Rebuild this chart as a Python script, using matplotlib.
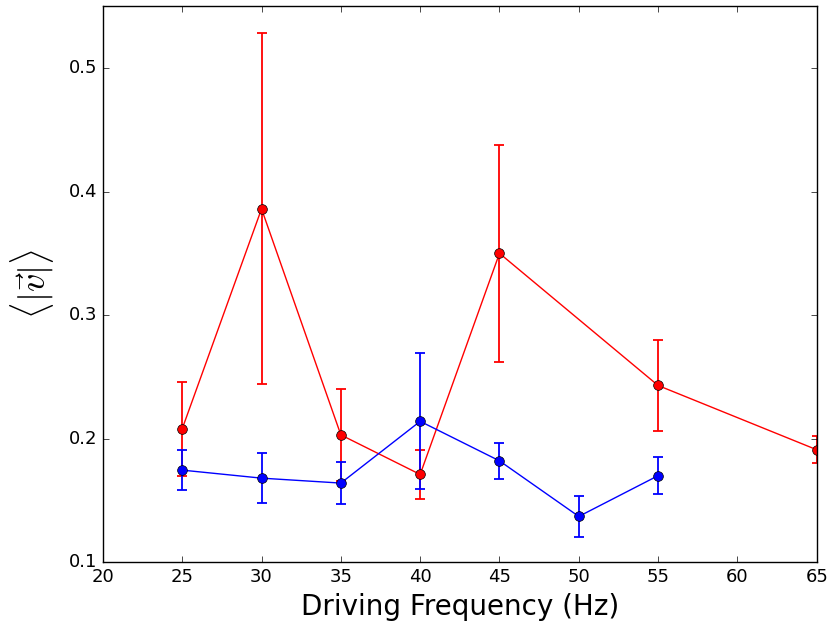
import matplotlib
matplotlib.use('Agg')
import matplotlib.pyplot as plt

plt.style.use('classic')

# red series
freq_r = [25, 30, 35, 40, 45, 55, 65]
v_r = [0.208, 0.386, 0.203, 0.171, 0.350, 0.243, 0.191]
err_r = [0.038, 0.142, 0.037, 0.020, 0.088, 0.037, 0.011]

# blue series
freq_b = [25, 30, 35, 40, 45, 50, 55]
v_b = [0.1745, 0.168, 0.164, 0.214, 0.182, 0.137, 0.170]
err_b = [0.016, 0.0205, 0.017, 0.055, 0.0146, 0.0167, 0.015]

fig = plt.figure(figsize=(8.3, 6.26), dpi=100)
ax = fig.add_axes([0.124, 0.102, 0.86, 0.888])

ax.errorbar(freq_r, v_r, yerr=err_r, fmt='o-', color='r', markersize=7,
            elinewidth=1.3, capthick=1.3, capsize=3.5)
ax.errorbar(freq_b, v_b, yerr=err_b, fmt='o-', color='b', markersize=7,
            elinewidth=1.3, capthick=1.3, capsize=3.5)

ax.set_xlim(20, 65)
ax.set_ylim(0.1, 0.55)
ax.set_yticks([0.1, 0.2, 0.3, 0.4, 0.5])
ax.tick_params(labelsize=13)
ax.set_xlabel('Driving Frequency (Hz)', fontsize=20)
ax.set_ylabel(r'$\langle|\vec{v}|\rangle$', fontsize=26, labelpad=9)

fig.savefig('out.png', dpi=100)
